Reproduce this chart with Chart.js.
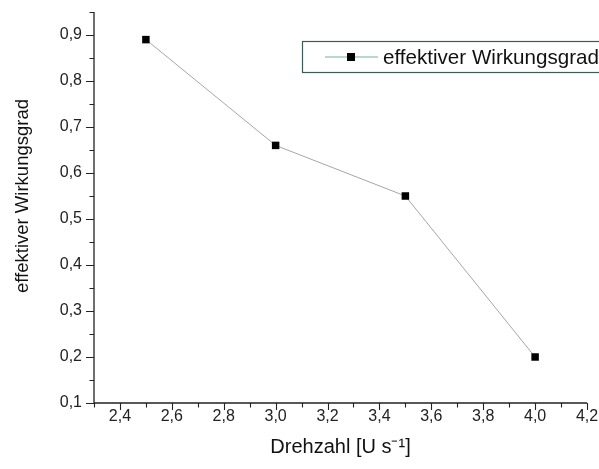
<!DOCTYPE html>
<html>
<head>
<meta charset="utf-8">
<script src="https://cdn.jsdelivr.net/npm/chart.js@4"></script>
<style>
html,body{margin:0;padding:0;background:#fff;}
#wrap{width:599px;height:469px;}
</style>
</head>
<body>
<div id="wrap"><canvas id="c" width="599" height="469"></canvas></div>
<script>
const xValues = [2.5, 3.0, 3.5, 4.0];
const yValues = [0.89, 0.66, 0.55, 0.20];
const seriesName = 'effektiver Wirkungsgrad';
const xMajorTicks = [2.4, 2.6, 2.8, 3.0, 3.2, 3.4, 3.6, 3.8, 4.0, 4.2];
const xMinorTicks = [2.3, 2.5, 2.7, 2.9, 3.1, 3.3, 3.5, 3.7, 3.9, 4.1];
const yMajorTicks = [0.1, 0.2, 0.3, 0.4, 0.5, 0.6, 0.7, 0.8, 0.9];
const yMinorTicks = [0.15, 0.25, 0.35, 0.45, 0.55, 0.65, 0.75, 0.85, 0.95];
const xTitle = 'Drehzahl [U s\u207B\u00B9]';
const yTitle = 'effektiver Wirkungsgrad';

const FONT = '"Liberation Sans", Arial, sans-serif';
const fmt = v => Number(v).toFixed(1).replace('.', ',');

const axesPlugin = {
  id: 'axesPlugin',
  afterDraw(chart) {
    const ctx = chart.ctx;
    const xs = chart.scales.x, ys = chart.scales.y;
    const ca = chart.chartArea;
    ctx.save();
    ctx.strokeStyle = '#222';
    ctx.lineWidth = 1.3;
    ctx.beginPath();
    ctx.moveTo(ca.left, ca.top);
    ctx.lineTo(ca.left, ca.bottom);
    ctx.lineTo(ca.right, ca.bottom);
    ctx.stroke();
    ctx.lineWidth = 1.1;
    ctx.beginPath();
    xMajorTicks.forEach(v => { const p = Math.round(xs.getPixelForValue(v)) + 0.5; ctx.moveTo(p, ca.bottom); ctx.lineTo(p, ca.bottom + 7); });
    xMinorTicks.forEach(v => { const p = Math.round(xs.getPixelForValue(v)) + 0.5; ctx.moveTo(p, ca.bottom); ctx.lineTo(p, ca.bottom + 4.5); });
    yMajorTicks.forEach(v => { const p = Math.round(ys.getPixelForValue(v)) + 0.5; ctx.moveTo(ca.left, p); ctx.lineTo(ca.left - 8, p); });
    yMinorTicks.forEach(v => { const p = Math.round(ys.getPixelForValue(v)) + 0.5; ctx.moveTo(ca.left, p); ctx.lineTo(ca.left - 4.5, p); });
    ctx.stroke();

    // y axis title
    ctx.save();
    ctx.translate(23, 196);
    ctx.rotate(-Math.PI / 2);
    ctx.fillStyle = '#111';
    ctx.font = '18.5px ' + FONT;
    ctx.textAlign = 'center';
    ctx.textBaseline = 'middle';
    ctx.fillText(yTitle, 0, 0);
    ctx.restore();

    // legend box
    const bx = 302.5, by = 41.5, bw = 320, bh = 31;
    ctx.strokeStyle = '#3d5a58';
    ctx.lineWidth = 1.2;
    ctx.strokeRect(bx, by, bw, bh);
    const ly = by + bh / 2;
    ctx.strokeStyle = '#6fb3aa';
    ctx.lineWidth = 1;
    ctx.beginPath();
    ctx.moveTo(325, ly); ctx.lineTo(378, ly);
    ctx.stroke();
    ctx.fillStyle = '#000';
    ctx.fillRect(347, ly - 4, 8, 8);
    ctx.fillStyle = '#111';
    ctx.font = '20.6px ' + FONT;
    ctx.textBaseline = 'middle';
    ctx.textAlign = 'left';
    ctx.fillText(seriesName, 383, ly + 1);
    ctx.restore();
  }
};

new Chart(document.getElementById('c'), {
  type: 'scatter',
  data: {
    datasets: [{
      label: seriesName,
      data: xValues.map((x, i) => ({x: x, y: yValues[i]})),
      showLine: true,
      borderColor: '#a3a6a8',
      borderWidth: 1,
      pointStyle: 'rect',
      pointRadius: 5.3,
      pointHoverRadius: 5.3,
      pointBackgroundColor: '#000',
      pointBorderColor: '#000',
      pointBorderWidth: 0
    }]
  },
  options: {
    responsive: false,
    animation: false,
    devicePixelRatio: 1,
    layout: { padding: { left: 0, right: 12, top: 12, bottom: 0 } },
    plugins: { legend: { display: false }, tooltip: { enabled: false } },
    scales: {
      x: {
        type: 'linear',
        min: 2.3, max: 4.2,
        afterBuildTicks: s => { s.ticks = xMajorTicks.map(v => ({value: v})); },
        afterFit: s => { s.height = 66; s.paddingLeft = 0; s.paddingRight = 0; },
        grid: { display: false, drawTicks: false },
        border: { display: false },
        ticks: { padding: 4, color: '#222', font: { family: FONT, size: 16 }, callback: v => fmt(v), maxRotation: 0, autoSkip: false },
        title: { display: true, text: xTitle, color: '#111', font: { family: FONT, size: 20 }, padding: { top: 0, bottom: 10 } }
      },
      y: {
        type: 'linear',
        min: 0.1, max: 0.95,
        afterBuildTicks: s => { s.ticks = yMajorTicks.map(v => ({value: v})); },
        afterFit: s => { s.width = 94; s.paddingTop = 0; s.paddingBottom = 0; },
        grid: { display: false, drawTicks: false },
        border: { display: false },
        ticks: { padding: 12, color: '#222', font: { family: FONT, size: 16 }, callback: v => fmt(v), autoSkip: false },
        title: { display: false }
      }
    }
  },
  plugins: [axesPlugin]
});
</script>
</body>
</html>
